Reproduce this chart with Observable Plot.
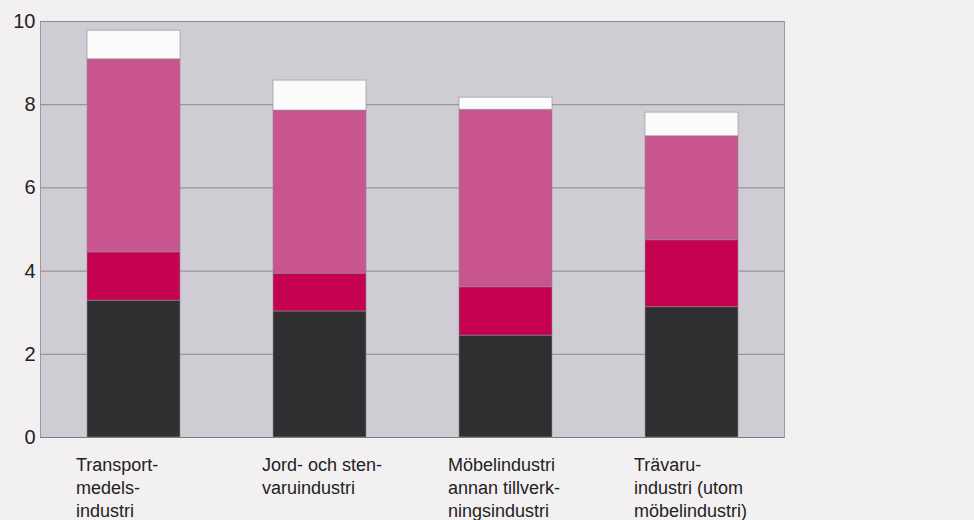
<!DOCTYPE html>
<html>
<head>
<meta charset="utf-8">
<script src="https://cdn.jsdelivr.net/npm/d3@7"></script>
<script src="https://cdn.jsdelivr.net/npm/@observablehq/plot@0.6"></script>
<style>
  html, body { margin: 0; padding: 0; background: #f3f0f2; }
  #chart { width: 974px; height: 520px; }
  svg { display: block; }
</style>
</head>
<body>
<div id="chart"></div>
<script>
const categories = ["Transport", "Jord", "Mobel", "Trava"];
const categoryLabels = [
  "Transport-\nmedels-\nindustri",
  "Jord- och sten-\nvaruindustri",
  "Möbelindustri\nannan tillverk-\nningsindustri",
  "Trävaru-\nindustri (utom\nmöbelindustri)"
];
const seriesNames = ["Del 1", "Del 2", "Del 3", "Del 4"];
const serie1 = [3.29, 3.03, 2.45, 3.13];
const serie2 = [1.16, 0.91, 1.16, 1.61];
const serie3 = [4.64, 3.92, 4.27, 2.50];
const serie4 = [0.69, 0.72, 0.29, 0.57];
const yTicks = [0, 2, 4, 6, 8, 10];

const seriesValues = [serie1, serie2, serie3, serie4];
const data = [];
seriesNames.forEach((s, si) => {
  categories.forEach((c, ci) => {
    data.push({cat: c, series: s, value: seriesValues[si][ci]});
  });
});
const labelOf = new Map(categories.map((c, i) => [c, categoryLabels[i]]));

const chart = Plot.plot({
  width: 974,
  height: 520,
  marginLeft: 40,
  marginRight: 190,
  marginTop: 21,
  marginBottom: 83,
  style: {background: "#f3f0f2", fontFamily: "'Liberation Sans', Arial, sans-serif", color: "#222"},
  x: {domain: categories, paddingInner: 0.5, paddingOuter: 0.25, axis: null},
  y: {domain: [0, 10], axis: null},
  color: {domain: seriesNames, range: ["#2f2e31", "#c4024f", "#c9558f", "#fcfbfc"]},
  marks: [
    Plot.frame({fill: "#cfccd4", stroke: "#9c99a1", strokeWidth: 1}),
    Plot.gridY(yTicks, {stroke: "#8a8790", strokeOpacity: 1, strokeWidth: 1}),
    Plot.barY(data, {x: "cat", y: "value", fill: "series", stroke: "#8f8b93", strokeWidth: 0.6}),
    Plot.ruleY([0], {stroke: "#7d7a82", strokeWidth: 1}),
    Plot.axisY(yTicks, {label: null, tickSize: 0, tickPadding: 5, fontSize: 20, fill: "#222", tickFormat: d => String(d)}),
    Plot.text(categories, {
      x: d => d,
      y: 0,
      text: d => labelOf.get(d),
      textAnchor: "start",
      lineAnchor: "top",
      lineHeight: 1.28,
      dx: -58,
      dy: 17,
      fontSize: 18,
      fill: "#222"
    })
  ]
});
document.getElementById("chart").appendChild(chart);
</script>
</body>
</html>
